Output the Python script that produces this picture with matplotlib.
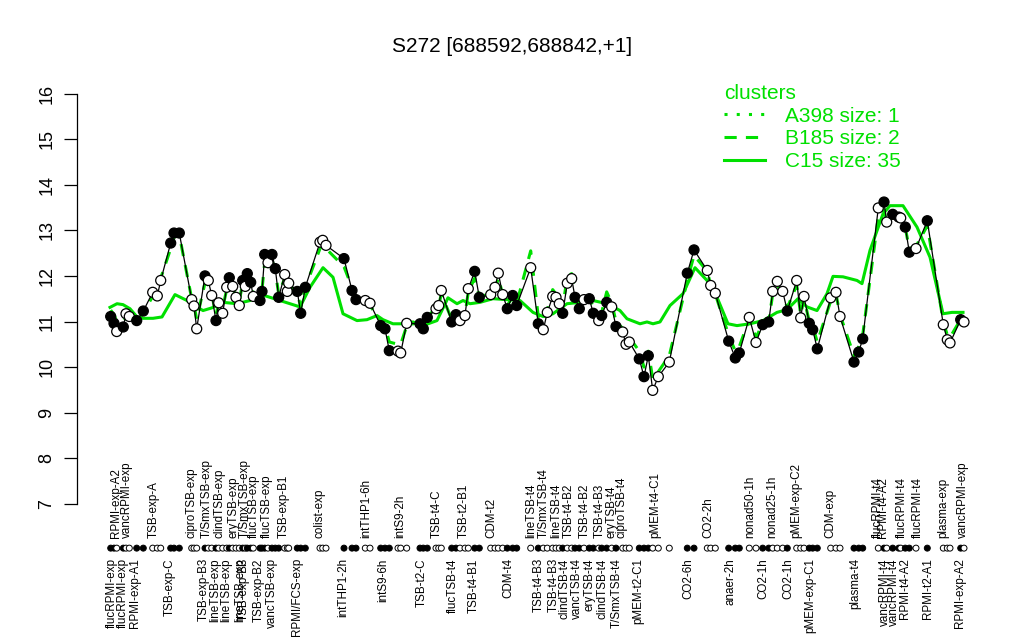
import numpy as np
import matplotlib.pyplot as plt
from matplotlib.lines import Line2D

plt.rcParams['font.family'] = ['Liberation Sans', 'DejaVu Sans']

# sample positions along the x axis and expression values
xpos = [110.7, 114, 116.7, 123.3, 126, 129.3, 136.7, 143.3, 152.7, 157.3,
        160.7, 170.7, 174, 179.3, 191.7, 194, 196.7, 205, 208.3, 211.7,
        216, 218.7, 222.7, 226.7, 229.3, 232.7, 236, 239.3, 242.7, 245.3,
        247.3, 250.7, 253.3, 260, 262, 264.7, 268, 272, 275.3, 278.7,
        284.7, 287.3, 288.7, 297.3, 300.7, 305.3, 320, 322.7, 326, 344,
        352, 356, 365.3, 370, 380.7, 385, 389.3, 398, 400.7, 406.7,
        420, 423.3, 427.3, 436, 438.7, 441.3, 451.7, 456, 460, 465,
        468.3, 474.7, 479.3, 490.7, 495, 498.3, 502.7, 507.3, 512.7, 516.7,
        530.7, 538.3, 543.3, 547.3, 552.7, 556, 559.3, 562.7, 567.3, 571.7,
        575, 579.3, 584, 589.3, 593.3, 598.7, 601.7, 606.7, 611.7, 616,
        622.7, 626, 629.3, 639.3, 644, 648.3, 652.7, 658.3, 669.3, 687.3,
        694, 707.3, 710.7, 715.3, 728.7, 735.3, 739.3, 749.3, 756, 762.7,
        768.7, 772.7, 777.3, 782.7, 787.3, 796.7, 800.7, 804, 809.3, 812.7,
        817.3, 830.7, 836, 840, 854, 858.7, 862.7, 878.3, 884, 886.7,
        892.7, 898.7, 900.7, 905.3, 909.3, 916, 927.3, 943.3, 947.3, 950,
        960.7, 964]

vals = [11.11, 10.96, 10.78, 10.88, 11.17, 11.11, 11.02, 11.23, 11.64, 11.56,
        11.90, 12.72, 12.94, 12.94, 11.48, 11.34, 10.84, 12.00, 11.90, 11.57,
        11.02, 11.41, 11.18, 11.75, 11.96, 11.77, 11.53, 11.35, 11.90, 11.77,
        12.05, 11.86, 11.55, 11.46, 11.66, 12.47, 12.29, 12.47, 12.16, 11.53,
        12.03, 11.66, 11.84, 11.66, 11.18, 11.75, 12.74, 12.78, 12.67, 12.38,
        11.68, 11.48, 11.46, 11.40, 10.91, 10.84, 10.36, 10.35, 10.31, 10.96,
        10.95, 10.84, 11.09, 11.28, 11.35, 11.68, 10.99, 11.15, 11.02, 11.13,
        11.72, 12.10, 11.53, 11.59, 11.75, 12.06, 11.59, 11.28, 11.57, 11.35,
        12.18, 10.95, 10.82, 11.20, 11.55, 11.53, 11.39, 11.18, 11.84, 11.94,
        11.53, 11.28, 11.48, 11.50, 11.18, 11.02, 11.13, 11.42, 11.32, 10.89,
        10.77, 10.50, 10.55, 10.18, 9.79, 10.25, 9.49, 9.79, 10.11, 12.06,
        12.57, 12.12, 11.79, 11.62, 10.57, 10.20, 10.31, 11.09, 10.54, 10.93,
        10.99, 11.66, 11.88, 11.66, 11.23, 11.90, 11.08, 11.55, 10.96, 10.82,
        10.40, 11.52, 11.64, 11.11, 10.11, 10.33, 10.62, 13.49, 13.62, 13.18,
        13.35, 13.29, 13.27, 13.07, 12.52, 12.60, 13.21, 10.93, 10.60, 10.53,
        11.04, 10.99]

filled = [1, 1, 0, 1, 0, 0, 1, 1, 0, 0,
          0, 1, 1, 1, 0, 0, 0, 1, 0, 0,
          1, 0, 0, 0, 1, 0, 0, 0, 1, 0,
          1, 1, 0, 1, 1, 1, 0, 1, 1, 1,
          0, 0, 0, 1, 1, 1, 0, 0, 0, 1,
          1, 1, 0, 0, 1, 1, 1, 0, 0, 0,
          1, 1, 1, 0, 0, 0, 1, 1, 0, 0,
          0, 1, 1, 0, 0, 0, 0, 1, 1, 1,
          0, 1, 0, 0, 0, 0, 0, 1, 0, 0,
          1, 1, 0, 1, 1, 0, 1, 1, 0, 1,
          0, 0, 0, 1, 1, 1, 0, 0, 0, 1,
          1, 0, 0, 0, 1, 1, 1, 0, 0, 1,
          1, 0, 0, 0, 1, 0, 0, 0, 1, 1,
          1, 0, 0, 0, 1, 1, 1, 0, 1, 0,
          1, 1, 0, 1, 1, 0, 1, 0, 0, 0,
          1, 0]

# cluster B185 mean (dashed)
b185 = [11.25, 11.15, 11.0, 11.0, 11.1, 11.1, 10.95, 11.2, 11.55, 11.6,
        11.95, 12.6, 12.85, 12.9, 11.5, 11.35, 11.05, 11.85, 11.8, 11.6,
        11.15, 11.4, 11.3, 11.7, 11.85, 11.75, 11.55, 11.45, 11.85, 11.8,
        11.95, 11.85, 11.6, 11.5, 11.7, 12.3, 12.2, 12.35, 12.1, 11.6,
        11.95, 11.7, 11.8, 11.65, 11.3, 11.75, 12.6, 12.7, 12.6, 12.2,
        11.75, 11.5, 11.4, 11.35, 11.0, 10.9, 10.55, 10.5, 10.5, 10.9,
        11.0, 10.9, 11.1, 11.3, 11.35, 11.6, 11.05, 11.15, 11.05, 11.15,
        11.65, 11.95, 11.55, 11.6, 11.7, 11.95, 11.6, 11.35, 11.55, 11.4,
        12.55, 11.1, 11.0, 11.25, 11.7, 11.6, 11.45, 11.3, 12.0, 12.05,
        11.6, 11.4, 11.55, 11.55, 11.3, 11.15, 11.2, 11.65, 11.4, 11.0,
        10.85, 10.6, 10.65, 10.35, 10.0, 10.35, 9.75, 9.9, 10.25, 11.9,
        12.45, 12.1, 11.8, 11.6, 10.7, 10.35, 10.45, 11.05, 10.65, 10.95,
        11.0, 11.6, 11.8, 11.6, 11.3, 11.8, 11.15, 11.5, 11.0, 10.9,
        10.55, 11.45, 11.6, 11.15, 10.25, 10.45, 10.7, 13.3, 13.45, 13.15,
        13.3, 13.25, 13.2, 13.05, 12.6, 12.65, 13.1, 11.0, 10.7, 10.65,
        11.05, 11.05]

# cluster C15 mean (solid)
c15_x = [110, 117, 123, 130, 137, 143, 153, 162, 175, 187, 197, 203, 212, 223,
         237, 250, 260, 270, 280, 290, 300, 310, 323, 333, 343, 357, 367, 377,
         383, 393, 403, 413, 423, 437, 448, 457, 463, 470, 480, 493, 507, 520,
         533, 543, 553, 567, 580, 593, 607, 620, 627, 640, 647, 653, 660, 670,
         683, 695, 707, 717, 728, 737, 750, 763, 777, 787, 798, 807, 817, 827,
         833, 843, 857, 862, 870, 883, 890, 903, 917, 930, 943, 952, 963]
c15_y = [11.31, 11.39, 11.37, 11.28, 11.1, 11.07, 11.07, 11.1, 11.59, 11.46,
         11.32, 11.24, 11.3, 11.42, 11.39, 11.46, 11.6, 11.53, 11.46, 11.39,
         11.32, 11.75, 12.18, 11.97, 11.17, 11.02, 11.04, 11.13, 11.04, 10.95,
         10.95, 10.99, 10.91, 11.02, 11.52, 11.39, 11.46, 11.39, 11.42, 11.5,
         11.48, 11.46, 11.2, 11.11, 11.17, 11.39, 11.42, 11.46, 11.39, 11.24,
         11.06, 10.95, 10.99, 10.95, 10.99, 11.35, 11.61, 12.18, 11.9, 11.53,
         10.95, 10.91, 10.95, 11.02, 11.2, 11.26, 11.5, 11.32, 11.24, 11.61,
         11.99, 11.98, 11.9, 11.83, 12.56, 13.36, 13.54, 13.54, 13.07, 12.41,
         11.17, 11.2, 11.2]

# sample names shown under / over the marker row
bot_x = [111.7, 123.3, 135, 170, 203.3, 215, 226.7, 240, 244, 258.3, 271.7,
         296.7, 343.3, 383, 421.7, 453.3, 473.3, 508.3, 538.3, 553.3, 565,
         577.3, 590, 602.7, 616.7, 638.3, 688.3, 730, 763.3, 788.3, 810, 855,
         885, 894, 905, 928.3, 960]
bot_lab = ['flucRPMI-exp', 'flucRPMI-exp', 'RPMI-exp-A1', 'TSB-exp-C',
           'TSB-exp-B3', 'lineTSB-exp', 'lineTSB-exp', 'lineTSB-exp',
           'TSB-exp-B3', 'TSB-exp-B2', 'vancTSB-exp', 'RPMI/FCS-exp',
           'intTHP1-2h', 'intS9-6h', 'TSB-t2-C', 'flucTSB-t4', 'TSB-t4-B1',
           'CDM-t4', 'TSB-t4-B3', 'TSB-t4-B3', 'clindTSB-t4', 'vancTSB-t4',
           'eryTSB-t4', 'clindTSB-t4', 'T/SmxTSB-t4', 'pMEM-t2-C1', 'CO2-6h',
           'anaer-2h', 'CO2-1h', 'CO2-1h', 'pMEM-exp-C1', 'plasma-t4',
           'vancRPMI-t4', 'vancRPMI-t4', 'RPMI-t4-A2', 'RPMI-t2-A1',
           'RPMI-exp-A2']
top_x = [116, 126.7, 153.3, 191.7, 206.7, 220, 233.3, 244.3, 254, 266.7,
         283.3, 320, 366.7, 400, 436.7, 463.3, 491.7, 531.7, 543.3, 556.7,
         568.3, 585, 600, 611.7, 621.7, 655, 708.3, 750, 772.7, 796, 830,
         878.3, 883.3, 901.7, 918.3, 943.3, 963.3]
top_lab = ['RPMI-exp-A2', 'vancRPMI-exp', 'TSB-exp-A', 'ciproTSB-exp',
           'T/SmxTSB-exp', 'clindTSB-exp', 'eryTSB-exp', 'T/SmxTSB-exp',
           'flucTSB-exp', 'flucTSB-exp', 'TSB-exp-B1', 'colist-exp',
           'intTHP1-6h', 'intS9-2h', 'TSB-t4-C', 'TSB-t2-B1', 'CDM-t2',
           'lineTSB-t4', 'T/SmxTSB-t4', 'lineTSB-t4', 'TSB-t4-B2', 'TSB-t4-B2',
           'TSB-t4-B3', 'eryTSB-t4', 'ciproTSB-t4', 'pMEM-t4-C1', 'CO2-2h',
           'nonad50-1h', 'nonad25-1h', 'pMEM-exp-C2', 'CDM-exp', 'flucRPMI-t4',
           'RPMI-t4-A2', 'flucRPMI-t4', 'flucRPMI-t4', 'plasma-exp',
           'vancRPMI-exp']

yticks = list(range(7, 17))
leg_labels = ['A398 size: 1', 'B185 size: 2', 'C15 size: 35']

green = '#00e000'

fig = plt.figure(figsize=(10.24, 6.4), dpi=100)
ax = fig.add_axes([0, 0, 1, 1])
ax.set_xlim(0, 1024)
ax.set_ylim(16 - (640 - 93.5) / 45.6, 16 + 93.5 / 45.6)

ax.plot(c15_x, c15_y, color=green, lw=2.2, zorder=2)
ax.plot(xpos, b185, color=green, lw=2.2, dashes=(4, 3), zorder=2)
ax.plot(xpos, vals, color='black', lw=0.9, zorder=3)

fc = ['black' if f else 'white' for f in filled]
ax.scatter(xpos, vals, s=7.2**2, c=fc, edgecolors='black', linewidths=0.9, zorder=4)
ax.scatter(xpos, np.full(len(xpos), 6.03), s=4.3**2, c=fc,
           edgecolors='black', linewidths=0.7, zorder=4)

# R-style axis: only the left one, ticks out, labels rotated
for s in ['top', 'right', 'bottom']:
    ax.spines[s].set_visible(False)
ax.spines['left'].set_position(('data', 77))
ax.spines['left'].set_bounds(7, 16)
ax.spines['left'].set_linewidth(0.9)
ax.set_xticks([])
ax.set_yticks(yticks)
ax.tick_params(axis='y', length=9.6, width=0.9, labelleft=False)
for v in yticks:
    ax.text(47, v, str(v), rotation=90, ha='center', va='center', fontsize=13)

for x, l in zip(bot_x, bot_lab):
    ax.text(x, 5.81, l, rotation=90, ha='center', va='top', fontsize=8.4)
for x, l in zip(top_x, top_lab):
    ax.text(x, 6.25, l, rotation=90, ha='center', va='bottom', fontsize=8.4)

fig.text(0.5, 1 - 47 / 640, 'S272 [688592,688842,+1]', ha='center',
         va='center', fontsize=15)

handles = [Line2D([], [], color=green, lw=2.2, ls=(0, (1, 3))),
           Line2D([], [], color=green, lw=2.2, dashes=(4, 3)),
           Line2D([], [], color=green, lw=2.2)]
leg = ax.legend(handles, leg_labels, title='clusters', loc='upper left',
                bbox_to_anchor=(724 / 1024, 1 - 84 / 640),
                bbox_transform=fig.transFigure, frameon=False, fontsize=15,
                title_fontsize=15, handlelength=1.95, handletextpad=1.0,
                labelspacing=0.18, borderpad=0, borderaxespad=0,
                alignment='left')
for t in leg.get_texts():
    t.set_color(green)
leg.get_title().set_color(green)

fig.savefig('out.png', dpi=100)
